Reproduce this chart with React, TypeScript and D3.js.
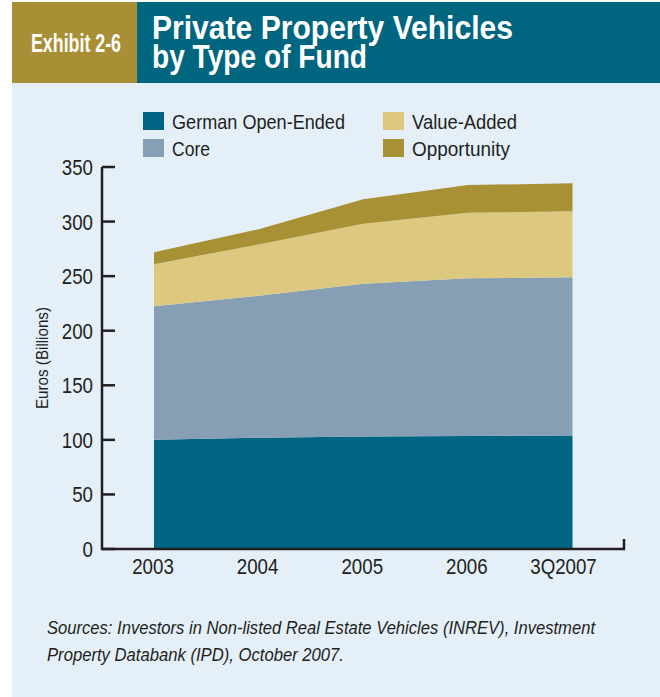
import * as d3 from "d3"

const years = ["2003", "2004", "2005", "2006", "3Q2007"]
const germanOpenEnded = [100, 102, 103, 103.5, 104]
const core = [122.5, 130, 140, 144.5, 145]
const valueAdded = [38.5, 47, 55, 60, 60.5]
const opportunity = [11, 14, 22.5, 25.5, 25.5]
const yTicks = [0, 50, 100, 150, 200, 250, 300, 350]

const seriesKeys = ["German Open-Ended", "Core", "Value-Added", "Opportunity"]
const colors = ["#006582", "#879fb5", "#dcc97f", "#a89035"]

const W = 660, H = 697
const font = "'Liberation Sans', Arial, sans-serif"
const ink = "#231f20"

// condensed text: Liberation Sans squeezed horizontally
function CText(props: { x: number; y: number; size: number; anchor?: string; sx?: number; children: any }) {
  const sx = props.sx ?? 0.85
  return (
    <text transform={`translate(${props.x},${props.y}) scale(${sx},1)`} textAnchor={props.anchor || "start"}
      fontSize={props.size} fill={ink}>{props.children}</text>
  )
}

export default function App() {
  const rows = years.map((yr, i) => ({
    year: yr,
    "German Open-Ended": germanOpenEnded[i],
    Core: core[i],
    "Value-Added": valueAdded[i],
    Opportunity: opportunity[i],
  }))
  const stacked = d3.stack<any>().keys(seriesKeys)(rows)

  const x = d3.scalePoint<string>().domain(years).range([154, 572.5])
  const y = d3.scaleLinear().domain([0, 350]).range([549, 167])
  const area = d3.area<any>()
    .x(d => x(d.data.year)!)
    .y0(d => y(d[0]))
    .y1(d => y(d[1]))

  const legend = [
    { key: seriesKeys[0], lx: 143, ly: 112, len: 173 },
    { key: seriesKeys[1], lx: 143, ly: 139, len: 38 },
    { key: seriesKeys[2], lx: 383, ly: 112, len: 105 },
    { key: seriesKeys[3], lx: 383, ly: 139, len: 98 },
  ]

  return (
    <svg width={W} height={H} style={{ position: "absolute", left: 0, top: 0 }} fontFamily={font}>
      <rect x={0} y={0} width={W} height={H} fill="#fff" />
      {/* header */}
      <rect x={12} y={2} width={125} height={81} fill="#a88f35" />
      <rect x={137} y={2} width={W - 137} height={81} fill="#006680" />
      <rect x={12} y={83} width={W - 12} height={H - 83} fill="#e4eff8" />
      <text x={31} y={52} fill="#fff" fontWeight="bold" fontSize={25} textLength={90} lengthAdjust="spacingAndGlyphs">Exhibit 2-6</text>
      <text x={152} y={39} fill="#fff" fontWeight="bold" fontSize={33} textLength={361} lengthAdjust="spacingAndGlyphs">Private Property Vehicles</text>
      <text x={152} y={68} fill="#fff" fontWeight="bold" fontSize={33} textLength={215} lengthAdjust="spacingAndGlyphs">by Type of Fund</text>

      {/* legend */}
      {legend.map((l, i) => (
        <g key={l.key}>
          <rect x={l.lx} y={l.ly} width={21} height={18} fill={colors[i]} />
          <text x={l.lx + 29} y={l.ly + 17} fontSize={21} fill={ink} textLength={l.len} lengthAdjust="spacingAndGlyphs">{l.key}</text>
        </g>
      ))}

      {/* areas */}
      {stacked.map((s, i) => (
        <path key={s.key} d={area(s) || ""} fill={colors[i]} />
      ))}

      {/* axes */}
      <line x1={102} x2={102} y1={y(350)} y2={y(0) + 1} stroke={ink} strokeWidth={2.5} />
      <line x1={101} x2={625} y1={y(0)} y2={y(0)} stroke={ink} strokeWidth={2.5} />
      <line x1={624} x2={624} y1={y(0) + 1} y2={y(0) - 10} stroke={ink} strokeWidth={2.5} />
      {yTicks.map(t => (
        <g key={t}>
          <line x1={102} x2={115} y1={y(t)} y2={y(t)} stroke={ink} strokeWidth={2.5} />
          <CText x={93} y={y(t) + 8} size={22} anchor="end">{t}</CText>
        </g>
      ))}
      {years.map((yr, i) => (
        <CText key={yr} x={x(yr)! - (i === years.length - 1 ? 9 : 1)} y={574} size={22} anchor="middle">{yr}</CText>
      ))}
      <text transform={`translate(48,${y(175)}) rotate(-90)`} textAnchor="middle" fontSize={16} fill={ink}
        textLength={102} lengthAdjust="spacingAndGlyphs">Euros (Billions)</text>

      {/* source */}
      <text x={47} y={634} fontSize={18} fontStyle="italic" fill={ink} textLength={548} lengthAdjust="spacingAndGlyphs">Sources: Investors in Non-listed Real Estate Vehicles (INREV), Investment</text>
      <text x={47} y={661} fontSize={18} fontStyle="italic" fill={ink} textLength={297} lengthAdjust="spacingAndGlyphs">Property Databank (IPD), October 2007.</text>
    </svg>
  )
}
